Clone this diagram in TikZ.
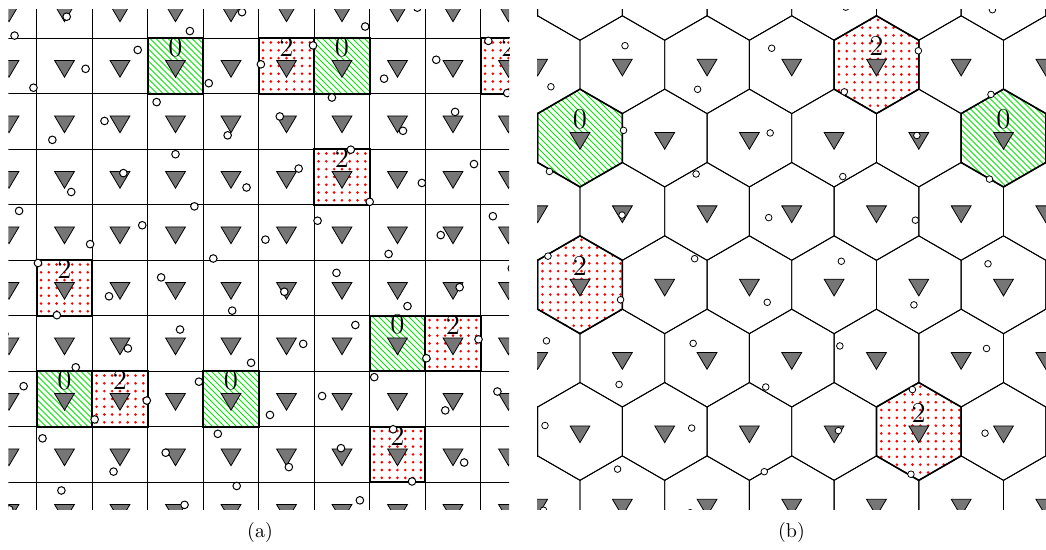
\documentclass[tikz,border=0pt]{standalone}
\definecolor{bsgray}{RGB}{118,118,118}
\definecolor{hatchgreen}{RGB}{0,235,0}
\tikzset{
  grid line/.style={line width=0.5pt, black},
  cell border/.style={line width=1pt, black},
  hex line/.style={line width=0.45pt, black},
  hatch/.style={line width=0.4pt, hatchgreen},
  reddot/.style={fill=red, draw=none},
  bs/.style={fill=bsgray, draw=black, line width=0.4pt},
  ue/.style={fill=white, draw=black, line width=0.5pt},
  uetwo/.style={fill=white, draw=black, line width=0.4pt},
  lab/.style={font=\Large, inner sep=0pt},
  bstri/.pic={\draw[bs] (-9.9,-5.5) -- (9.9,-5.5) -- (0,11.2) -- cycle;},
  hexcell/.pic={\path[#1] (0,-48.9) -- (42.35,-24.45) -- (42.35,24.45) -- (0,48.9) -- (-42.35,24.45) -- (-42.35,-24.45) -- cycle;},
}
\begin{document}
\begin{tikzpicture}[x=0.5pt,y=-0.5pt]
\useasboundingbox (0,0) rectangle (1046,550);
% ---------------- (a) square grid ----------------
\begin{scope}
  \clip (8.3,10) rectangle (509,510);
  \foreach \i/\j in {3/1,6/1,7/6,1/7,4/7} {
    \pgfmathsetmacro\xo{-18.75+55.5*\i}
    \pgfmathsetmacro\yo{-17.25+55.5*\j}
    \begin{scope}
      \clip (\xo,\yo) rectangle ++(55.5,55.5);
      \foreach \t in {-60,-54,...,60}
        \draw[hatch] ({\xo+\t},{\yo-2}) -- ++(60,60);
    \end{scope}
  }
  \foreach \i/\j in {5/1,9/1,6/3,1/5,8/6,2/7,7/8} {
    \pgfmathsetmacro\xo{-18.75+55.5*\i}
    \pgfmathsetmacro\yo{-17.25+55.5*\j}
    \foreach \u in {0,...,6} \foreach \v in {0,...,6}
      \fill[reddot] ({\xo+4.3+7.8*\u},{\yo+4.3+7.8*\v}) circle[radius=1.45];
  }
  \foreach \k in {0,...,8} {
    \draw[grid line] ({36.75+55.5*\k},0) -- ({36.75+55.5*\k},520);
    \draw[grid line] (0,{38.25+55.5*\k}) -- (520,{38.25+55.5*\k});
  }
  \foreach \i/\j in {3/1,6/1,7/6,1/7,4/7,5/1,9/1,6/3,1/5,8/6,2/7,7/8}
    \draw[cell border] ({-18.75+55.5*\i},{-17.25+55.5*\j}) rectangle ++(55.5,55.5);
  \foreach \i in {0,...,9} \foreach \j in {0,...,9}
    \pic at ({9+55.5*\i},{10.5+55.5*\j}) {bstri};
  \foreach \i/\j [count=\n] in {3/1,6/1,7/6,1/7,4/7}
    \node[lab] (za\n) at ({9+55.5*\i},{-8.5+55.5*\j}) {0};
  \foreach \i/\j [count=\n] in {5/1,9/1,6/3,1/5,8/6,2/7,7/8}
    \node[lab] (ta\n) at ({9+55.5*\i},{-8.5+55.5*\j}) {2};
  \foreach \m in {-10,...,4} \foreach \n in {-3,...,12}
    \draw[ue] ({66.7-52.14*\m+18.89*\n},{16.7+18.89*\m+52.14*\n}) circle[radius=3.8];
\end{scope}
% ---------------- (b) hexagonal grid ----------------
\begin{scope}
  \clip (537,10) rectangle (1046,510);
  \foreach \r/\c in {1/0,1/5} {
    \pgfmathsetmacro\hx{580+42.35*mod(\r+1,2)+84.7*\c}
    \pgfmathsetmacro\hy{64.7+73.35*\r}
    \begin{scope}
      \clip[shift={(\hx,\hy)}] (0,-48.9) -- (42.35,-24.45) -- (42.35,24.45) -- (0,48.9) -- (-42.35,24.45) -- (-42.35,-24.45) -- cycle;
      \foreach \t in {-110,-104,...,60}
        \draw[hatch] ({\hx+\t},{\hy-52}) -- ++(110,110);
    \end{scope}
  }
  \foreach \r/\c in {0/3,3/0,5/4} {
    \pgfmathsetmacro\hx{580+42.35*mod(\r+1,2)+84.7*\c}
    \pgfmathsetmacro\hy{64.7+73.35*\r}
    \begin{scope}
      \clip[shift={(\hx,\hy)}] (0,-48.9) -- (42.35,-24.45) -- (42.35,24.45) -- (0,48.9) -- (-42.35,24.45) -- (-42.35,-24.45) -- cycle;
      \foreach \u in {-6,...,6} \foreach \v in {-7,...,7}
        \fill[reddot] ({\hx+1.5+7.8*\u},{\hy+2+7.8*\v}) circle[radius=1.45];
    \end{scope}
  }
  \foreach \r in {-1,...,7} \foreach \c in {-1,...,6}
    \pic at ({580+42.35*mod(\r+1,2)+84.7*\c},{64.7+73.35*\r}) {hexcell={draw,hex line}};
  \foreach \r/\c in {1/0,1/5,0/3,3/0,5/4}
    \pic at ({580+42.35*mod(\r+1,2)+84.7*\c},{64.7+73.35*\r}) {hexcell={draw,cell border,line width=0.8pt}};
  \foreach \r in {-1,...,7} \foreach \c in {-1,...,6}
    \pic at ({580+42.35*mod(\r+1,2)+84.7*\c},{64.7+73.35*\r}) {bstri};
  \foreach \r/\c [count=\n] in {1/0,1/5}
    \node[lab] (zb\n) at ({580+42.35*mod(\r+1,2)+84.7*\c},{45.7+73.35*\r}) {0};
  \foreach \r/\c [count=\n] in {0/3,3/0,5/4}
    \node[lab] (tb\n) at ({580+42.35*mod(\r+1,2)+84.7*\c},{45.7+73.35*\r}) {2};
  \foreach \M in {-2,...,10} \foreach \N in {-7,...,2}
    \draw[uetwo] ({625-1.48*\M-74.08*\N},{45.7+84.69*\M+41.07*\N}) circle[radius=3.3];
\end{scope}
\node (capa) at (260,533) {(a)};
\node (capb) at (791.5,533) {(b)};
\end{tikzpicture}
\end{document}
